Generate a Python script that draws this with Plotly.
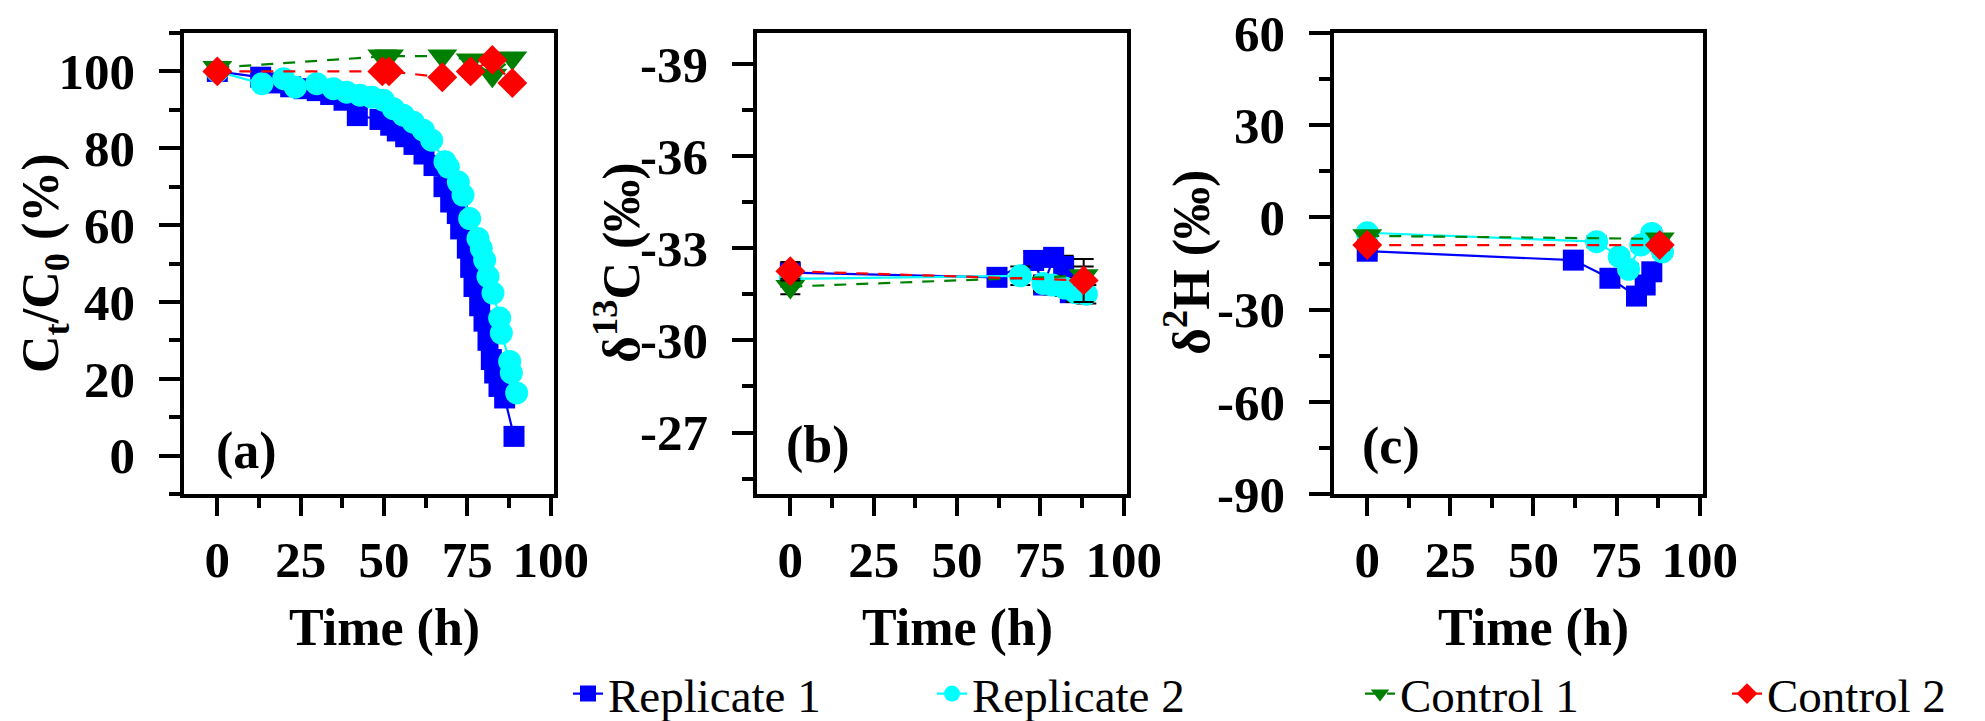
import plotly.graph_objects as go

# ---------------- data ----------------
# Panel (a): Ct/C0 (%)
a_rep1_t = [0, 13, 17, 22, 26, 30, 34, 38, 42, 48.8, 52, 54, 56.5, 59, 62, 65, 68, 70, 72, 73,
            75, 76, 77, 78.7, 80, 81.2, 82.2, 83.2, 84.5, 86.2, 89]
a_rep1_y = [100, 98.5, 97, 96, 95.5, 95, 94, 92.5, 88.5, 87.5, 86, 84.5, 83, 81, 78.5, 75.5, 70, 66,
            63, 59, 54, 49, 44, 39, 35, 30, 25, 21.5, 18, 15, 5]
a_rep2_t = [0, 13.4, 19.9, 23.4, 29.8, 34.8, 38.8, 42.8, 46.3, 49.8, 52.8, 55.8, 58.8, 61.8, 64.3,
            68.3, 69.3, 72.3, 73.7, 75.7, 78.2, 79.2, 80.2, 81.2, 82.7, 84.7, 85.2, 87.7, 88.2, 89.8]
a_rep2_y = [100, 96.8, 98.1, 95.9, 96.8, 95.5, 94.6, 93.8, 93.3, 92.5, 90.3, 88.6, 86.8, 84.7, 82.1,
            76.5, 75.1, 71.2, 67.8, 61.7, 56.5, 53.9, 50.9, 46.6, 42.3, 35.8, 31.9, 24.5, 21.5, 16.3]
a_ctl1_t = [0, 49.5, 51.5, 67.5, 76, 82.5, 88.5]
a_ctl1_y = [101, 104, 104, 104, 103, 99, 103.5]
a_ctl2_t = [0, 49.5, 51.5, 67.5, 76, 82.5, 88.5]
a_ctl2_y = [100, 100, 100, 98.5, 100, 103, 97]

# Panel (b): delta13C (permil)
b_rep1_t = [0, 62, 73, 76, 79, 82, 84]
b_rep1_y = [-32.2, -32.05, -32.6, -31.8, -32.7, -32.4, -31.55]
b_rep1_e = [0.25, 0.25, 0.3, 0.25, 0.3, 0.35, 0.3]
b_rep2_t = [0, 69, 75.8, 78.6, 82.3, 85.6, 88.8]
b_rep2_y = [-32.0, -32.1, -31.85, -31.8, -31.7, -31.55, -31.5]
b_rep2_e = [0.25, 0.3, 0.25, 0.3, 0.25, 0.3, 0.3]
b_ctl1_t = [0, 88]
b_ctl1_y = [-31.75, -32.1]
b_ctl1_e = [0.25, 0.3]
b_ctl2_t = [0, 88]
b_ctl2_y = [-32.25, -31.95]
b_ctl2_e = [0.3, 0.7]

# Panel (c): delta2H (permil)
c_rep1_t = [0, 62, 73, 81, 83.6, 85.6]
c_rep1_y = [-11, -13.9, -19.8, -25.6, -22, -17.7]
c_rep1_e = [1.5, 1.5, 1.8, 2.0, 1.8, 1.8]
c_rep2_t = [0, 69, 75.8, 78.6, 82.3, 85.6, 88.8]
c_rep2_y = [-5, -7.9, -12.8, -16.9, -9, -5.2, -11.2]
c_rep2_e = [1.5, 1.8, 1.6, 1.8, 1.8, 1.6, 1.5]
c_ctl1_t = [0, 88]
c_ctl1_y = [-6, -7]
c_ctl1_e = [1.5, 1.5]
c_ctl2_t = [0, 88]
c_ctl2_y = [-9, -9]
c_ctl2_e = [1.5, 1.5]

series_names = ["Replicate 1", "Replicate 2", "Control 1", "Control 2"]
x_ticks = [0, 25, 50, 75, 100]
a_yticks = [0, 20, 40, 60, 80, 100]
b_yticks = [-39, -36, -33, -30, -27]
c_yticks = [60, 30, 0, -30, -60, -90]
panel_labels = ["(a)", "(b)", "(c)"]

# ---------------- styles ----------------
W, H = 1985, 721
FONT = "Liberation Serif"
styles = [
    dict(color="#0000FF", symbol="square", size=21, dash="solid"),
    dict(color="#00FFFF", symbol="circle", size=23, dash="solid"),
    dict(color="#008000", symbol="triangle-down", size=26, dash="12px,10px"),
    dict(color="#FF0000", symbol="diamond", size=23, dash="12px,10px"),
]
legend_ids = ["legend", "legend2", "legend3", "legend4"]
legend_left_px = [568, 932, 1360, 1727]

fig = go.Figure()

panels = [
    ("x", "y", [(a_rep1_t, a_rep1_y, None), (a_rep2_t, a_rep2_y, None),
                (a_ctl1_t, a_ctl1_y, None), (a_ctl2_t, a_ctl2_y, None)]),
    ("x2", "y2", [(b_rep1_t, b_rep1_y, b_rep1_e), (b_rep2_t, b_rep2_y, b_rep2_e),
                  (b_ctl1_t, b_ctl1_y, b_ctl1_e), (b_ctl2_t, b_ctl2_y, b_ctl2_e)]),
    ("x3", "y3", [(c_rep1_t, c_rep1_y, c_rep1_e), (c_rep2_t, c_rep2_y, c_rep2_e),
                  (c_ctl1_t, c_ctl1_y, c_ctl1_e), (c_ctl2_t, c_ctl2_y, c_ctl2_e)]),
]

for pi, (xa, ya, sets) in enumerate(panels):
    for si, (tx, ty, te) in enumerate(sets):
        st = styles[si]
        tr = dict(
            x=tx, y=ty, xaxis=xa, yaxis=ya, mode="lines+markers",
            name=series_names[si], legendgroup=series_names[si], showlegend=(pi == 0),
            legend=legend_ids[si],
            line=dict(color=st["color"], width=2.2, dash=st["dash"]),
            marker=dict(color=st["color"], symbol=st["symbol"], size=st["size"], line=dict(width=0)),
        )
        if te is not None:
            tr["error_y"] = dict(type="data", array=te, visible=True, color="black",
                                 thickness=2, width=10)
        fig.add_trace(go.Scatter(**tr))

ydom = [1 - 494 / H, 1 - 33 / H]
xdoms = [[184 / W, 554 / W], [757 / W, 1127 / W], [1334 / W, 1703 / W]]

axis_common = dict(showline=True, linecolor="black", linewidth=3.5, mirror=True,
                   showgrid=False, zeroline=False, ticks="outside", tickcolor="black",
                   tickwidth=3.5,
                   tickfont=dict(family=FONT, size=51, color="black", weight="bold"))

for i, dom in enumerate(xdoms):
    key = "xaxis" if i == 0 else f"xaxis{i+1}"
    fig.layout[key] = dict(axis_common, domain=dom, range=[-10, 101], anchor=("y" if i == 0 else f"y{i+1}"),
                           tickmode="array", tickvals=x_ticks, ticktext=[str(v) for v in x_ticks],
                           ticklen=18, ticklabelstandoff=0,
                           minor=dict(tickmode="linear", tick0=0, dtick=12.5, ticklen=10,
                                      tickwidth=3.5, tickcolor="black", ticks="outside"))

def ylab(v):
    return ("-" + str(abs(v))) if v < 0 else str(v)

yspecs = [
    (a_yticks, [-10, 110], 0, 10),
    (b_yticks, [-25, -40], -39, 1.5),
    (c_yticks, [-90, 60], 60, 15),
]
for i, (tv, rng, t0, mdt) in enumerate(yspecs):
    key = "yaxis" if i == 0 else f"yaxis{i+1}"
    fig.layout[key] = dict(axis_common, domain=ydom, range=rng, anchor=("x" if i == 0 else f"x{i+1}"),
                           tickmode="array", tickvals=tv, ticktext=[ylab(v) for v in tv],
                           ticklen=21, ticklabelstandoff=14,
                           minor=dict(tickmode="linear", tick0=t0, dtick=mdt, ticklen=11,
                                      tickwidth=3.5, tickcolor="black", ticks="outside"))

annots = []
title_font = dict(family=FONT, size=52, color="black", weight="bold")
# y-axis titles
ytitles = [("C<sub>t</sub>/C<sub>0</sub> (%)", 44),
           ("δ<sup>13</sup>C (‰)", 618),
           ("δ<sup>2</sup>H (‰)", 1188)]
for txt, px in ytitles:
    annots.append(dict(text=txt, xref="paper", yref="paper", x=px / W, y=1 - 263 / H,
                       showarrow=False, textangle=-90, font=title_font,
                       xanchor="center", yanchor="middle"))
# x-axis titles
for i in range(3):
    xr = "x" if i == 0 else f"x{i+1}"
    annots.append(dict(text="Time (h)", xref=xr, yref="paper", x=50, y=1 - 628 / H,
                       showarrow=False, font=title_font, xanchor="center", yanchor="middle"))
# panel labels
label_pos = [("x", "y", 8.7, 1.3), ("x2", "y2", 8.4, -26.6), ("x3", "y3", 7.2, -74.4)]
for (xr, yr, lx, ly), lab in zip(label_pos, panel_labels):
    annots.append(dict(text=lab, xref=xr, yref=yr, x=lx, y=ly, showarrow=False,
                       font=title_font, xanchor="center", yanchor="middle"))

layout_kw = dict(
    width=W, height=H,
    margin=dict(l=0, r=0, t=0, b=0, autoexpand=False),
    paper_bgcolor="white", plot_bgcolor="white",
    annotations=annots,
    showlegend=True,
)
for lid, lx in zip(legend_ids, legend_left_px):
    layout_kw[lid] = dict(orientation="h", x=lx / W, xanchor="left", y=1 - 694 / H, yanchor="middle",
                          font=dict(family=FONT, size=47, color="black"),
                          bgcolor="rgba(0,0,0,0)", itemsizing="trace")
fig.update_layout(**layout_kw)

fig.write_html("out.html")
